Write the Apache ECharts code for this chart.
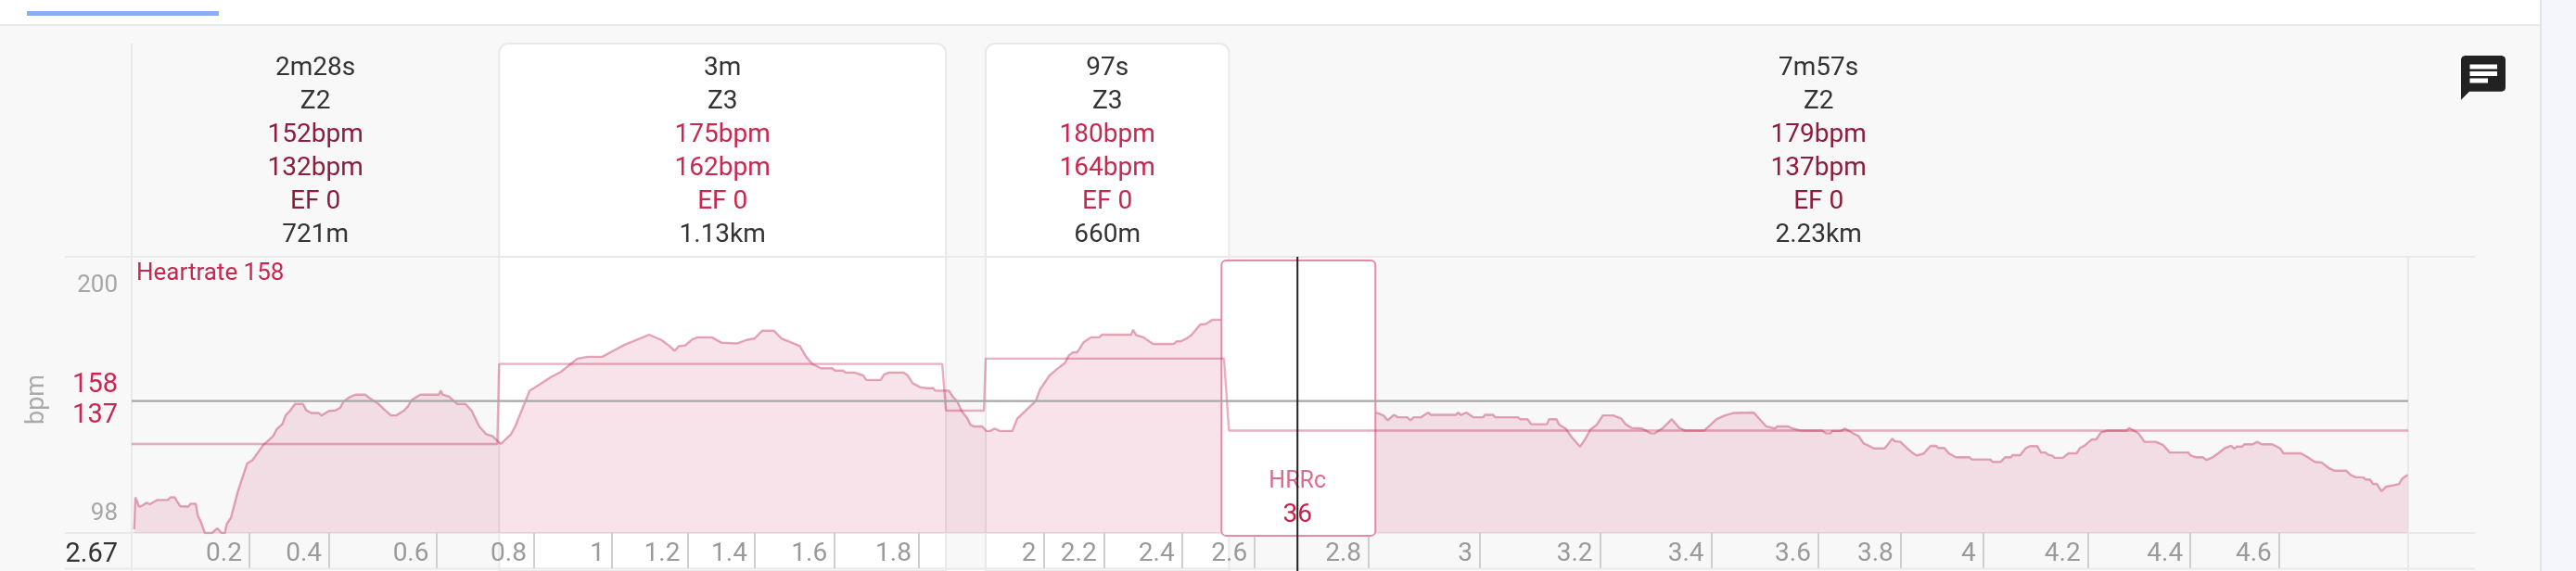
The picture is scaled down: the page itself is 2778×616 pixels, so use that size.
<!DOCTYPE html>
<html><head><meta charset="utf-8">
<style>html,body{margin:0;padding:0;background:#f5f5fc}#c{width:2778px;height:616px}</style>
<script src="https://cdn.jsdelivr.net/npm/echarts@6/dist/echarts.min.js"></script>
</head><body><div id="c"></div>
<script>
const hrTimes=[1,1.5,3,4.5,6,7.3,10.3,14.5,15.7,17.3,19.5,22.8,23.7,25.8,26.7,27.8,29.5,32.3,34.5,36.2,37.5,38.3,40,42.8,46.5,48.7,52.8,57,58.3,60.7,62,63.7,65.8,69,70.3,72.3,75.3,76.5,79.5,82,84,85.3,87.8,90.3,94,97,99.5,102,104.5,106.5,109.5,111.2,112.8,116.2,123.7,124.5,125.3,127.8,131.2,134.5,137,140,142.8,145.3,148.7,152.8,154.5,157,160.3,163.7,168.7,172.8,179.5,183.7,189.5,195.3,198.7,202,
208.4,213.4,216.7,218.7,220.4,223,225.9,228,233.7,237.6,244,247.6,250.9,254,258.7,261.7,265.9,269.2,271.7,274.2,277.6,282.2,283.4,286.7,287.6,291.2,294.7,295.9,301.7,303,305,310.9,312.6,314.6,317.6,320.4,323,323.7,329.2,330.9,332.6,334.3,336.7,337.9,339.2,342.6,344.2,345.9,347.6,349.7,354.7,356.7,364.2,365.9,369.7,372.6,375.9,377.6,379.2,380.9,383.4,386.4,389.7,390.9,402.6,403.4,404.7,407.6,411.4,419.7,420.9,422.6,425,427,430.4,432.6,435.4,438.7,
501.1,504.3,505.9,508.4,510.1,513.8,515.1,516.4,519.3,520.9,522.3,523.4,533.4,534.3,535.4,537.6,540.6,544.3,545.1,548.4,549.3,558.4,559.3,562.3,563.8,570.1,570.9,573.9,575.1,577.6,580.1,583.4,585.6,587.6,590.1,592.6,596.8,600.1,601.8,604.3,608.4,611.9,613.4,616.8,620.4,623.4,625.9,633.4,638.4,641.8,645.1,653.4,658.4,661.9,662.9,667.3,668.9,672.6,680.9,682.6,684.3,685.1,688.4,690.1,
694,695.5,697.7,699.6,701.8,706,707.3,709.2,710.3,712.5,715.3,717.2,719,721.8,724.6,727,727.7,730.2,732,734.8,740.3,741.3,748.7,749.6,752.8,754.6,757,757.6,760.7,763,764.8,767.6,769.1,770.9,771.9,773.7,774.6,777.8,780.2,783.4,784.8,786.7,789.5,791.3,793.2,795.6,803.4,804.7,806.2,808.4,810.8,815.4,818.2,821,828.4,829.3,831.6,834.3,835.8,838.2,840.5,843.2,845.7,847,847.9,850.1,851,854.4,856.2,858.1,862.3,865.5,866.8,873.8,876.6,879.4,882.2,885,887.2,892,893.9,896,898.9,899.8,901.6,902.9,904.4,906.3,908.1,910.5,913.3,914.6,916.8];
const hrValues=[100,112,108.5,109,110,109.4,111,111,112,112,108.7,108.5,109.6,109.6,105,103,98.6,98.6,100.4,98.6,98.6,102,104.4,114.3,124.7,126,131.4,135,137.4,139.5,142.7,144.4,147,147,144.7,143.6,143.6,142.7,144.4,144.6,145.6,147.9,149.6,150.5,150.5,148.5,147,144.7,142.7,142.7,144.4,146,148.5,150.5,150.5,152,150.5,149.8,147,147,144.4,138.6,135.7,135,132,135.7,138.6,144.4,152,154,157,159,164,164.7,164.7,167.6,169.3,170.5,
173,171,168.7,167,168.7,169,171.3,172,172,170,169.7,171,171.6,174.5,174.5,171.6,170,168.7,164.7,162,160.4,160.4,159.5,159.5,158.8,158.8,157.7,156,156,158,158.8,158.8,157.7,154.8,153.3,152.9,152.9,152,152,149.6,147.9,144.4,141.5,139.2,138.6,138.6,136.9,136.9,137.8,136.9,136.9,141.5,148.2,152.5,157.7,160,162.4,165.3,166.4,166.4,170.1,172,172,173,173,174.8,172.8,172,169.5,169.5,170.5,170.5,171.6,173,176.8,177,178.6,178.6,
143.8,142.7,140.9,142.9,142,142,140.9,142,142,143,143.8,142.9,142.9,143.8,142.9,143.8,142,142,142.9,142.9,142,142,141.3,141.3,139.4,139.4,141.3,141.3,139.2,137.8,134.5,131,134,137.4,139.2,142.7,142.7,141.5,139.4,138,137.8,136,136,138,141.3,138,137,137,141.3,142.7,143.6,143.8,138.6,137.8,138.6,138.6,137.8,137,137,136,136,136.9,136.9,137.8,
135.7,135.1,132.2,131.4,130.3,130.3,131.7,134,133,132.8,130.3,128.8,127.7,128.4,131.3,131.3,130.5,130.5,128.5,127,127,126.2,126.2,125.3,125.3,127,127,127.8,127.8,130.5,131.2,131.2,128.8,128.8,128,127.6,126.8,126.8,128.5,128.5,130.5,131.4,133.7,133.7,136.3,137,137,138,137.2,136,132.8,132.8,131.7,128.8,128.8,127.8,127,127,126,127,128.5,130.5,131.3,130.3,131,131,131.9,131.9,132.8,131.9,131.9,130.3,128.5,128.5,127,125.3,125,123,122,122,120.4,119.5,119.5,118.7,118.7,117,117,114.3,116,116.4,117,119,120.4];

const stepTimes=[0,147.3,148,326.5,328,343.3,344,440,442,917];
const stepValues=[132,132,162,162,144.5,144.5,164,164,137,137];
const avgTimes=[0,917];
const avgValues=[148.1,148.1];

const zoneStart=[0,148,344,442];
const zoneEnd=[148,328,442,917];
const zoneIsCard=[false,true,true,false];
const zoneDuration=['2m28s','3m','97s','7m57s'];
const zoneName=['Z2','Z3','Z3','Z2'];
const zoneMaxHr=['152bpm','175bpm','180bpm','179bpm'];
const zoneAvgHr=['132bpm','162bpm','164bpm','137bpm'];
const zoneEf=['EF 0','EF 0','EF 0','EF 0'];
const zoneDistance=['721m','1.13km','660m','2.23km'];

const kmTickTimes=[47.4,79.6,122.7,162.1,193.5,223.9,251,283.2,317.1,367.4,391.7,423.1,452.4,498.3,543.1,591.5,636.3,679.4,712.6,745.8,788,829.3,865];
const kmTickLabels=['0.2','0.4','0.6','0.8','1','1.2','1.4','1.6','1.8','2','2.2','2.4','2.6','2.8','3','3.2','3.4','3.6','3.8','4','4.2','4.4','4.6'];
const yLabelPositions=[191.3,154.1,142.6,105.8];
const yLabelTexts=['200','158','137','98'];
const yLabelStyles=['g','r','r','g'];

const hrrBox={start:439,end:501,top:200.8,bottom:97.6,cursor:469.6,label:'HRRc',value:'36'};

const FONT='Roboto';
const DARK='#333333', DEEP='#8c1c3c', BRIGHT='#c9274f', LINE='#e9e9e9';
const chart=echarts.init(document.getElementById('c'),null,{renderer:'canvas',width:2778,height:616});

function hl(x1,x2,y,c,w,z){return {type:'line',z:z,silent:true,shape:{x1,y1:y,x2,y2:y},style:{stroke:c,lineWidth:w}};}
function vl(x,y1,y2,c,w,z){return {type:'line',z:z,silent:true,shape:{x1:x,y1,x2:x,y2},style:{stroke:c,lineWidth:w}};}

chart.setOption({
  animation:false,
  backgroundColor:'#f5f5fc',
  grid:{left:142,right:181,top:277,bottom:41,containLabel:false},
  xAxis:{type:'value',min:0,max:917,z:3,
    axisLine:{show:false},
    splitLine:{show:false},
    axisTick:{show:true,customValues:kmTickTimes,length:38,lineStyle:{color:'#cfcfcf',width:2}},
    axisLabel:{show:true,customValues:kmTickTimes,align:'right',margin:9,padding:[0,8,0,0],fontFamily:FONT,fontSize:28,color:'#9a9a9a',
      formatter:v=>{const i=kmTickTimes.indexOf(v);return i>=0?kmTickLabels[i]:'';}}
  },
  yAxis:{type:'value',min:98.6,max:202.2,z:3,
    name:'bpm',nameLocation:'middle',nameGap:88,nameRotate:90,
    nameTextStyle:{fontFamily:FONT,fontSize:27,color:'#aaaaaa',padding:[0,10,0,0]},
    axisLine:{show:false},axisTick:{show:false},splitLine:{show:false},
    axisLabel:{show:true,customValues:yLabelPositions,margin:15,
      formatter:v=>{const i=yLabelPositions.indexOf(v);return i>=0?'{'+yLabelStyles[i]+'|'+yLabelTexts[i]+'}':'';},
      rich:{g:{fontFamily:FONT,fontSize:26,color:'#a6a6a6'},r:{fontFamily:FONT,fontSize:29,color:BRIGHT}}}
  },
  graphic:{elements:[
    {type:'rect',z:-10,silent:true,shape:{x:0,y:0,width:2739,height:27},style:{fill:'#ffffff'}},
    {type:'rect',z:-10,silent:true,shape:{x:0,y:27,width:2739,height:589},style:{fill:'#f8f8f8'}},
    {type:'rect',z:-9,silent:true,shape:{x:0,y:26,width:2739,height:2},style:{fill:'#e8e8e8'}},
    {type:'rect',z:-9,silent:true,shape:{x:2739,y:0,width:2,height:616},style:{fill:'#e2e2ea'}},
    {type:'rect',z:-9,silent:true,shape:{x:29,y:12,width:207,height:5},style:{fill:'#8aaef2'}},
    hl(70,2669,277,LINE,2,2),hl(70,2669,575,LINE,2,2),hl(70,2669,613.5,LINE,2,2),
    vl(142,47,616,LINE,2,2),vl(2597,277,616,LINE,2,2),
    {type:'text',z:5,silent:true,style:{text:'Heartrate 158',x:147,y:295,fill:BRIGHT,fontFamily:FONT,fontSize:26,align:'left',verticalAlign:'middle'}},
    {type:'text',z:5,silent:true,style:{text:'2.67',x:127,y:599,fill:'#333333',fontFamily:FONT,fontSize:29,align:'right',verticalAlign:'middle'}},
    {type:'polygon',z:5,silent:true,shape:{points:[[2658,60],[2698,60],[2701,61.2],[2702,64],[2702,95],[2701,97.5],[2698,98.7],[2663,98.7],[2654,107.7],[2654,64],[2655.2,61.2]]},style:{fill:'#222222'}},
    {type:'rect',z:6,silent:true,shape:{x:2663.5,y:69.5,width:29.5,height:5},style:{fill:'#ffffff'}},
    {type:'rect',z:6,silent:true,shape:{x:2663.5,y:77,width:29.5,height:5},style:{fill:'#ffffff'}},
    {type:'rect',z:6,silent:true,shape:{x:2663.5,y:84.5,width:19.5,height:5},style:{fill:'#ffffff'}}
  ]},
  series:[
    {type:'custom',name:'zones',z:1,silent:true,coordinateSystem:'cartesian2d',
      data:zoneStart.map((s,i)=>[s,zoneEnd[i],i]),encode:{x:[0,1]},
      renderItem:(params,api)=>{
        const i=api.value(2);
        const x0=api.coord([api.value(0),150])[0], x1=api.coord([api.value(1),150])[0];
        const cx=(x0+x1)/2, deep=!zoneIsCard[i];
        const rows=[[zoneDuration[i],DARK],[zoneName[i],DARK],[zoneMaxHr[i],deep?DEEP:BRIGHT],[zoneAvgHr[i],deep?DEEP:BRIGHT],[zoneEf[i],deep?DEEP:BRIGHT],[zoneDistance[i],DARK]];
        const ys=[74,110,145.7,181.7,218,254];
        const ch=[];
        if(zoneIsCard[i]) ch.push({type:'rect',shape:{x:x0,y:47,width:x1-x0,height:569,r:[10,10,0,0]},style:{fill:'#ffffff',stroke:LINE,lineWidth:2}});
        rows.forEach((r,k)=>ch.push({type:'text',style:{text:r[0],x:cx,y:ys[k],fill:r[1],fontFamily:FONT,fontSize:28,align:'center',verticalAlign:'middle'}}));
        return {type:'group',children:ch};
      }},
    {type:'line',name:'Heartrate',z:3,silent:true,showSymbol:false,smooth:false,
      data:hrTimes.map((t,i)=>[t,hrValues[i]]),
      lineStyle:{color:'rgba(190,35,80,0.38)',width:2.4},
      areaStyle:{color:'rgba(190,35,80,0.125)',opacity:1,origin:'start'}},
    {type:'custom',name:'HRRc',z:4,silent:true,coordinateSystem:'cartesian2d',
      data:[[hrrBox.start,hrrBox.end,hrrBox.top,hrrBox.bottom]],encode:{x:[0,1],y:[2,3]},
      renderItem:(params,api)=>{
        const a=api.coord([api.value(0),api.value(2)]), b=api.coord([api.value(1),api.value(3)]);
        const cx=api.coord([hrrBox.cursor,150])[0];
        return {type:'group',children:[
          {type:'rect',shape:{x:a[0],y:a[1],width:b[0]-a[0],height:b[1]-a[1],r:5},style:{fill:'#ffffff',stroke:'#e58aa6',lineWidth:2}},
          {type:'text',style:{text:hrrBox.label,x:cx,y:520,fill:'#dc6a8e',fontFamily:FONT,fontSize:25,align:'center',verticalAlign:'middle'}},
          {type:'text',style:{text:hrrBox.value,x:cx,y:555.5,fill:'#cc1f4a',fontFamily:FONT,fontSize:28,align:'center',verticalAlign:'middle'}}
        ]};
      }},
    {type:'line',name:'zoneAvg',z:5,silent:true,showSymbol:false,
      data:stepTimes.map((t,i)=>[t,stepValues[i]]),
      lineStyle:{color:'rgba(200,45,90,0.38)',width:2.4}},
    {type:'line',name:'avg',z:5,silent:true,showSymbol:false,
      data:avgTimes.map((t,i)=>[t,avgValues[i]]),
      lineStyle:{color:'#a8a8a8',width:2.4}},
    {type:'custom',name:'cursor',z:6,silent:true,coordinateSystem:'cartesian2d',
      data:[[hrrBox.cursor]],encode:{x:0},
      renderItem:(params,api)=>{
        const x=api.coord([api.value(0),150])[0];
        return {type:'line',shape:{x1:x,y1:277,x2:x,y2:616},style:{stroke:'#222222',lineWidth:2}};
      }}
  ]
});
</script></body></html>
